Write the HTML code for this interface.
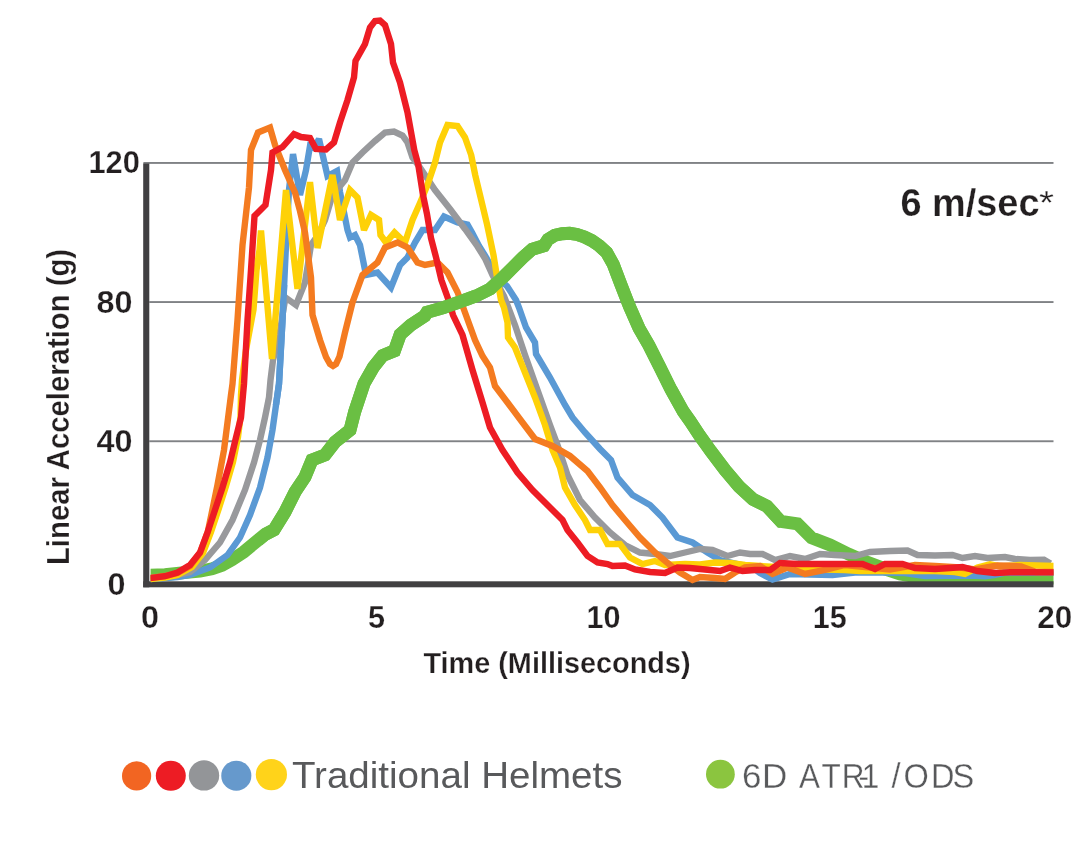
<!DOCTYPE html>
<html><head><meta charset="utf-8"><title>Linear Acceleration chart</title>
<style>
html,body{margin:0;padding:0;background:#fff}
body{width:1080px;height:856px;overflow:hidden}
svg{display:block}
.ax{font-family:"Liberation Sans",sans-serif;font-weight:bold;fill:#231f20;stroke:#fff;stroke-width:0.25px}
.lg{font-family:"Liberation Sans",sans-serif;fill:#58595b}
.lt{stroke:#fff;stroke-width:0.3px}
.ln{fill:none;stroke-linejoin:miter;stroke-miterlimit:2.6;stroke-linecap:butt}
</style></head><body>
<svg width="1080" height="856" viewBox="0 0 1080 856">
<defs>
<clipPath id="cp"><rect x="150.6" y="0" width="902.9" height="600"/></clipPath>
<clipPath id="bpatch"><rect x="270" y="285" width="23" height="120"/></clipPath>
<clipPath id="gtop"><rect x="262" y="0" width="518" height="600"/></clipPath>
</defs>
<rect width="1080" height="856" fill="#fff"/>
<!-- gridlines -->
<g fill="#808285">
<rect x="143.4" y="162" width="910.1" height="1.9"/>
<rect x="149.3" y="301.1" width="904.2" height="1.9"/>
<rect x="149.3" y="440.3" width="904.2" height="1.9"/>
</g>
<!-- curves -->
<g clip-path="url(#cp)">
<polyline class="ln" stroke="#6abf43" stroke-width="12.9" points="150,575.3 165,574.6 184,572.6 200,571.2 212,568.8 222,565.3 232,559.8 243.7,552 258.5,539.8 265,534.5 274,529.8 285,512 295,492 305,477 312,460 325,455 335,442 350,430 354.7,411.6 364,383.6 373.4,367.2 382.7,355.5 394.4,350.8 400.2,334.5 410.7,325.1 424.8,315.8 427,312.3 443.5,307.6 459.8,301.8 476.2,295.9 490.2,288.9 501.9,278.4 513.6,266.7 522.9,257.4 532.2,249.2 543.9,245.7 548,239.5 554.8,235.3 562.2,233.7 569.6,233.3 577,234.5 584.4,237 591.9,240.7 599.3,245.7 606.7,252.6 613.3,264.4 620.7,284 629.3,306 639,328.2 648.9,345.3 660,367.4 671,389.5 683.3,411.6 690,421 699.3,435 711,451.4 725,470 739,486.4 753,499.3 767,506.3 781,521.5 797.5,523.8 811.5,537.8 830,544.9 848.8,554.2 867.5,562.4 886.2,569.4 900,574 915,576.5 935,578 960,579 985,579 1030,578 1054,578"/>
</g>
<!-- axes -->
<rect x="143.2" y="163.5" width="6.1" height="423.8" fill="#414042"/>
<rect x="143.2" y="581.3" width="910.3" height="6" fill="#414042"/>
<g clip-path="url(#cp)">
<polyline class="ln" stroke="#5a99d4" stroke-width="6.4" points="150,579 165,578 177.5,577 190,575 210,567.5 227.5,555 240,537.5 250,515 260,487.5 267.5,457.5 272.5,430 276,405 279,384 282.5,320 286,245 289,190 293,154 300,195 306,170 310,146 314,148 319,139 327.5,176 337,171 340,192 347.5,230 350,237.5 355,235 360,245 366,275 377.5,272.5 391,287.5 400,265 407.5,257.5 415,242.5 422.5,230 435,230 444,216.5 457.5,222.5 467.5,224.5 472,232.5 479,246 486.5,258 494,272 500,280 507,286 516,300 519,307.5 526,327.5 535,342.5 536,354 550,377.5 565,405 572.5,417.5 585,432.5 600,449 611,460 617.5,477.5 632.5,495 650,505 662.5,517.5 677.5,537.5 692.5,542.5 707.5,552.5 720,560 737.5,564 752.5,567.5 760,573 772.5,579.5 790,574 810,574.5 832.5,575 855,572.5 885,572.5 905,573 925,576 947.5,575.7 972.5,575.5 985,576.3 994,575 1004,572.8 1054,572.5"/>
<polyline class="ln" stroke="#98999c" stroke-width="6.4" points="150,578 165,577 177.5,575 190,572 205,560 220,542.5 232.5,520 245,490 254,462.5 260,440 265,417.5 269,397.5 270.5,380 273,360 279.5,335 283,312 285.5,297.5 296,305 305,282.5 311,245 318,235 325,220 332.5,195 341,185 345,180 352.5,162.5 362.5,152.5 375,141 385,132.5 394,131.5 402.5,135.5 407.5,142.5 412.5,157.5 420,167.5 435,190 450,209 465,229 477.5,246.5 485,258.5 492.5,275 504,296 515,325 525,355 537.5,390 550,425 557.5,445 567.5,475 580,500 595,517.5 610,532.5 625,545 640,552.5 655,554 670,556 685,552.5 700,549 712.5,550 727.5,556 740,552.5 750,554 762.5,554 775,560 790,556 805,559 820,554 835,555 855,556 870,552 890,551 907.5,550.5 917.5,555 935,555.5 952.5,555 962.5,558 975,556 987.5,558 1005,557 1015,559 1030,560 1044,559.8 1050.5,563.5"/>
<g clip-path="url(#bpatch)"><polyline class="ln" stroke="#5a99d4" stroke-width="6.4" points="150,579 165,578 177.5,577 190,575 210,567.5 227.5,555 240,537.5 250,515 260,487.5 267.5,457.5 272.5,430 276,405 279,384 282.5,320 286,245 289,190 293,154 300,195 306,170 310,146 314,148 319,139 327.5,176 337,171 340,192 347.5,230 350,237.5 355,235 360,245 366,275 377.5,272.5 391,287.5 400,265 407.5,257.5 415,242.5 422.5,230 435,230 444,216.5 457.5,222.5 467.5,224.5 472,232.5 479,246 486.5,258 494,272 500,280 507,286 516,300 519,307.5 526,327.5 535,342.5 536,354 550,377.5 565,405 572.5,417.5 585,432.5 600,449 611,460 617.5,477.5 632.5,495 650,505 662.5,517.5 677.5,537.5 692.5,542.5 707.5,552.5 720,560 737.5,564 752.5,567.5 760,573 772.5,579.5 790,574 810,574.5 832.5,575 855,572.5 885,572.5 905,573 925,576 947.5,575.7 972.5,575.5 985,576.3 994,575 1004,572.8 1054,572.5"/></g>
<polyline class="ln" stroke="#fed107" stroke-width="6.4" points="150,579 165,577.5 177.5,575 192,567 203,553 211,532 219,508 226,486 233,462 238,437 240.5,417 241,395 242,380 246,350 253.5,309.5 256.5,270 259.5,250 261,230.5 272,359 286,190 297.5,289 310,182 317.5,248 332.5,175 340,220 350,190 357.5,197.5 364,230 371,215 379,220 380.5,235 386,242.5 394.5,232.5 405,242.5 412.5,220 420,203 427.5,185 435,162.5 440,142.5 447.5,125 457.5,126 465,137.5 471.2,155 475.2,175 481.2,200 487.2,225 493.5,255 497.5,280 501,300 504,307.5 507.5,322.5 508,337.5 515,347.5 525,372.5 535,397.5 545,425 552.5,450 560,467.5 565,487.5 575,505 585,520 590,530 600,530 607.5,544 620,544 630,557.5 642.5,564 655,561 665,565 685,564 700,564.5 715,562.5 730,563 745,565 760,566 785,567.5 805,569 825,569.5 845,570 860,571 885,571 910,571 935,571 955,572 965,574 977.5,567.5 990,564.3 1000,566.5 1020,565 1054,566"/>
<polyline class="ln" stroke="#f47b20" stroke-width="6.4" points="150,578 165,576 177.5,573 190,566 200,553 208,531 217.5,485 224,450 227.5,422.5 231,395 232.5,384 237.5,320 242.5,245 246,214 249,187.5 251,150 258,132.5 270,127.5 275,145 285,170 295,192.5 300,211 305,232.5 311,277.5 312.5,315 320,340 326,357 330,364 333,366 336,364 339.5,356.5 345,332.5 352.5,302.5 362.5,275 377.5,262.5 385,247.5 397.5,242.5 407.5,247.5 417.5,262.5 425,265 437.5,262.5 447.5,272.5 457.5,292 465,312.5 475,340 482.5,356 490,367.5 495,386 507.5,402.5 522.5,422.5 535,439 552.5,446 570,456 587.5,471 600,487.5 612.5,505 625,520 640,537.5 655,552.5 670,565 680,572.5 692.5,580 700,577 715,578 725,579 735,572.5 745,567.5 760,566 772.5,574 787.5,567.5 805,574 825,570 845,565 870,567.5 890,569.5 915,565 935,566 960,567.5 975,569.5 997.5,565.5 1010,565.7 1021,566.5 1028,569 1036,572 1054,572"/>
<polyline class="ln" stroke="#ed1c24" stroke-width="6.4" points="150,578.2 165,576.2 177.5,572.5 190,565 200,552.5 207.5,532.5 215,510 222.5,487.5 230,462.5 236,437.5 241,417.5 243,395 244,384 247.5,320 251,270 254.5,216 265.5,205 271,170 272.5,152.5 282.5,147 294,134 301,137 310,138 316,149 326,149.5 334,142.5 340,122.5 347.5,100 354,77.5 355.5,61 365,44 370,27.5 375,21 380,20.5 385,25 391,44 393,62.5 400,82.5 407.5,112.5 414.3,150 418.3,165 423,195 427,214 431,238 436.2,258 441.4,280 448.5,300 453,315 462.5,335 472.5,370 482.5,402.5 490,427.5 502.5,450 517.5,472.5 532.5,490 550,507.5 562.5,520 567.5,530 577.5,542.5 587.5,556 597.5,562.5 607.5,564 612.5,566 625,565.5 635,569.5 650,572 665,573 677.5,567.5 690,568 705,569.5 720,571 730,567.5 742.5,571 755,570 770,570 780,563 797.5,564 835,564 862.5,564 875,569 885,564 902.5,564 915,568 935,569 950,568 962.5,567 977.5,571 995,573 1010,572.3 1030,572.3 1054,572.4"/>
<g clip-path="url(#gtop)"><polyline class="ln" stroke="#6abf43" stroke-width="12.9" points="150,575.3 165,574.6 184,572.6 200,571.2 212,568.8 222,565.3 232,559.8 243.7,552 258.5,539.8 265,534.5 274,529.8 285,512 295,492 305,477 312,460 325,455 335,442 350,430 354.7,411.6 364,383.6 373.4,367.2 382.7,355.5 394.4,350.8 400.2,334.5 410.7,325.1 424.8,315.8 427,312.3 443.5,307.6 459.8,301.8 476.2,295.9 490.2,288.9 501.9,278.4 513.6,266.7 522.9,257.4 532.2,249.2 543.9,245.7 548,239.5 554.8,235.3 562.2,233.7 569.6,233.3 577,234.5 584.4,237 591.9,240.7 599.3,245.7 606.7,252.6 613.3,264.4 620.7,284 629.3,306 639,328.2 648.9,345.3 660,367.4 671,389.5 683.3,411.6 690,421 699.3,435 711,451.4 725,470 739,486.4 753,499.3 767,506.3 781,521.5 797.5,523.8 811.5,537.8 830,544.9 848.8,554.2 867.5,562.4 886.2,569.4 900,574 915,576.5 935,578 960,579 985,579 1030,578 1054,578"/></g>
</g>
<!-- y labels -->
<g class="ax" font-size="31" text-anchor="middle">
<text x="114.2" y="172.6" textLength="51.5" lengthAdjust="spacingAndGlyphs">120</text>
<text x="114.5" y="312.5" textLength="36" lengthAdjust="spacingAndGlyphs">80</text>
<text x="114.5" y="452" textLength="36" lengthAdjust="spacingAndGlyphs">40</text>
<text x="116.4" y="595" textLength="18" lengthAdjust="spacingAndGlyphs">0</text>
</g>
<!-- x labels -->
<g class="ax" font-size="31" text-anchor="middle">
<text x="150" y="627.5" textLength="18" lengthAdjust="spacingAndGlyphs">0</text>
<text x="376.5" y="627.5" textLength="17" lengthAdjust="spacingAndGlyphs">5</text>
<text x="603.5" y="627.5" textLength="34" lengthAdjust="spacingAndGlyphs">10</text>
<text x="829.8" y="627.5" textLength="34" lengthAdjust="spacingAndGlyphs">15</text>
<text x="1054.7" y="627.5" textLength="35" lengthAdjust="spacingAndGlyphs">20</text>
</g>
<text class="ax" font-size="29.5" x="423.5" y="672.8" textLength="267" lengthAdjust="spacingAndGlyphs">Time (Milliseconds)</text>
<text class="ax" font-size="31" transform="translate(68.9,565) rotate(-90)" textLength="316" lengthAdjust="spacingAndGlyphs">Linear Acceleration (g)</text>
<text class="ax" font-size="38" x="900.5" y="215.6" textLength="139" lengthAdjust="spacingAndGlyphs">6 m/sec</text>
<text class="ax" font-size="34" font-weight="normal" style="font-weight:normal" x="1039" y="213.5" textLength="15" lengthAdjust="spacingAndGlyphs">*</text>
<!-- legend -->
<circle cx="136.6" cy="775.9" r="14.6" fill="#f26522"/>
<circle cx="170.8" cy="775.8" r="15" fill="#ed1c24"/>
<circle cx="204" cy="775.4" r="15.2" fill="#939598"/>
<circle cx="236.3" cy="775.7" r="15.05" fill="#6699cc"/>
<circle cx="271.4" cy="774.6" r="15.6" fill="#ffd31a"/>
<text class="lg" font-size="36" x="292" y="787.5" textLength="330.5" lengthAdjust="spacingAndGlyphs">Traditional Helmets</text>
<circle cx="720.4" cy="774.2" r="14.4" fill="#8bc53f"/>
<text class="lg lt" font-size="35" y="788.2" x="742.1 762">6D</text>
<text class="lg lt" font-size="35" transform="translate(0,788.2) scale(0.9,1)" x="887.9 912.7 935.4 953.8 957.5">ATR-1</text>
<text class="lg lt" font-size="35" transform="translate(0,788.2) scale(0.93,1)" x="958.6 971.5 1001 1024.2">/ODS</text>
</svg>
</body></html>
